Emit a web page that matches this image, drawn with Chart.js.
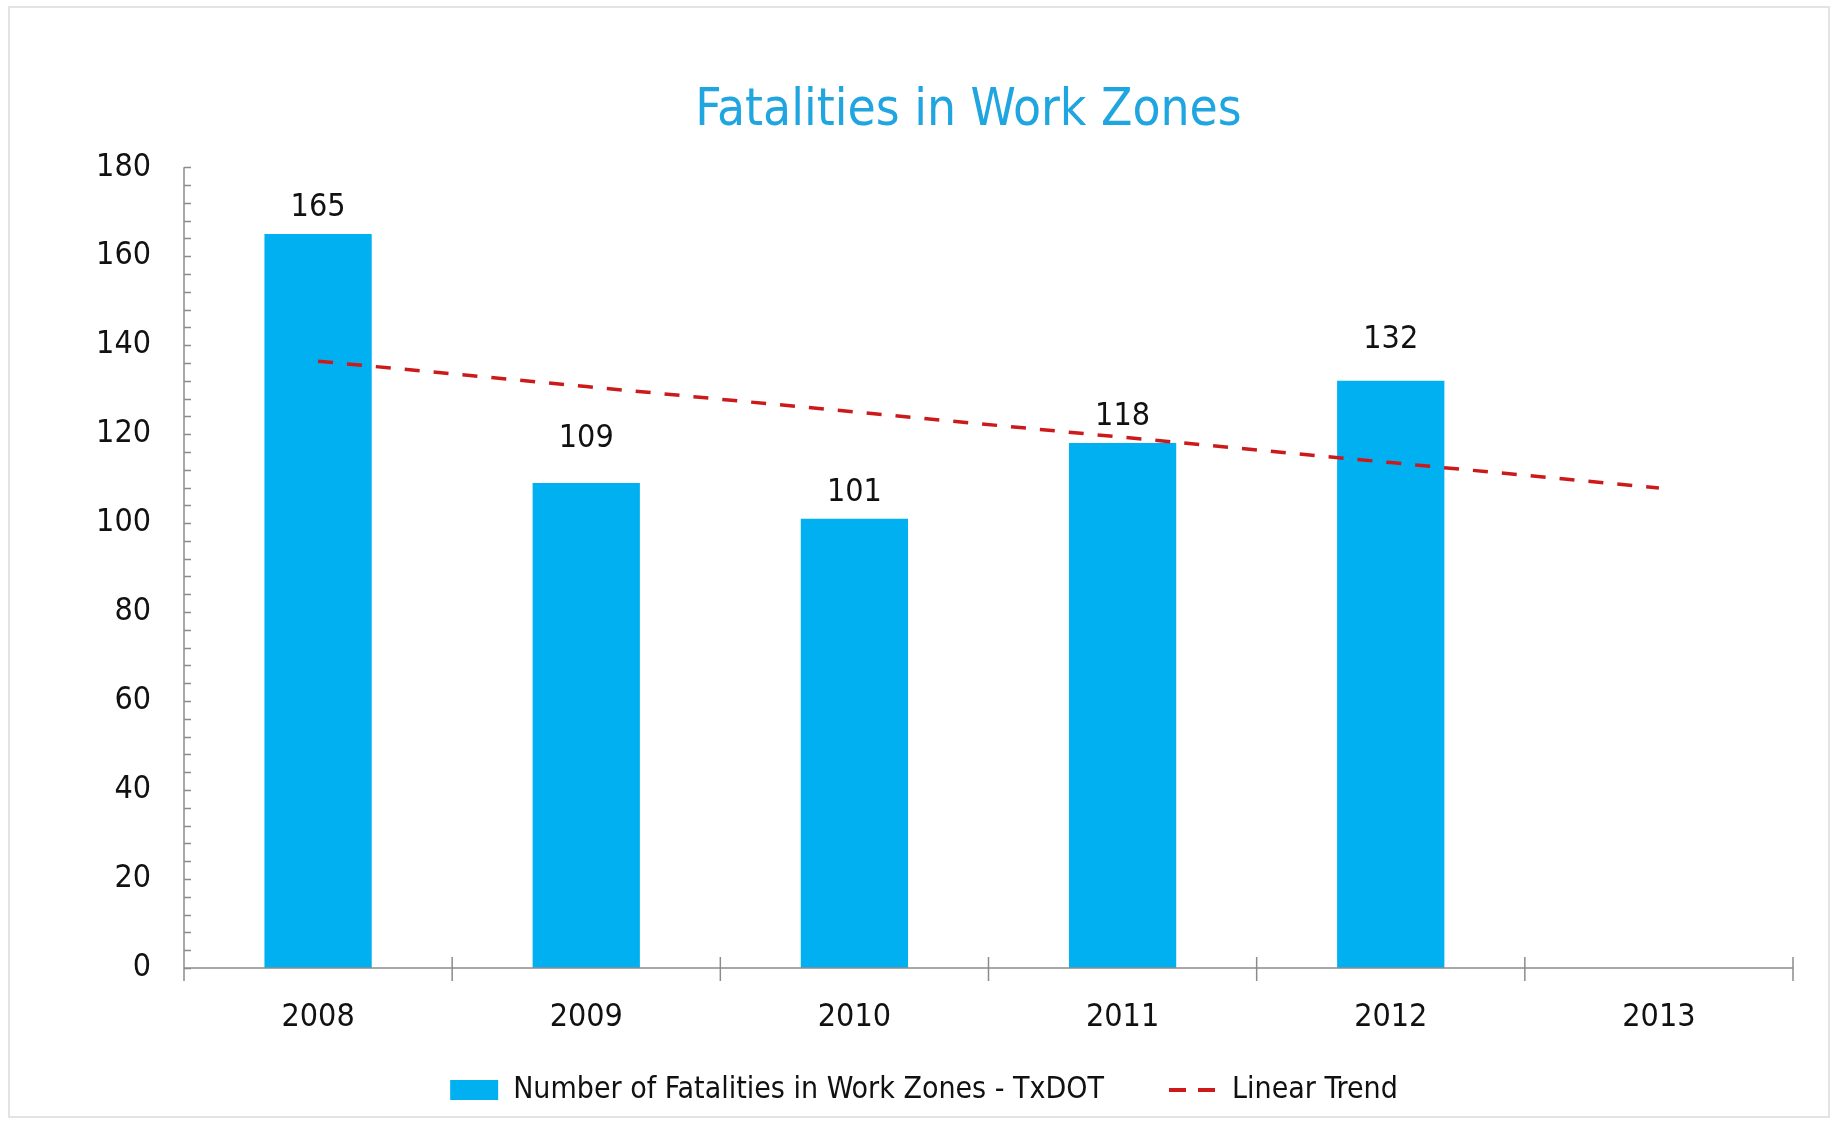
<!DOCTYPE html>
<html>
<head>
<meta charset="utf-8">
<title>Fatalities in Work Zones</title>
<script src="https://cdn.jsdelivr.net/npm/chart.js@4.4.1/dist/chart.umd.min.js"></script>
<style>
  html, body { margin: 0; padding: 0; background: #fff; }
  #frame { position: absolute; left: 8px; top: 6px; width: 1822px; height: 1112px; border: 2px solid #e3e3e3; box-sizing: border-box; }
  #wrap { position: absolute; left: 0; top: 0; width: 1835px; height: 1125px; }
</style>
</head>
<body>
<div id="frame"></div>
<div id="wrap"><canvas id="chart"></canvas></div>
<script>
// values
const years = ['2008', '2009', '2010', '2011', '2012', '2013'];
const fatalities = [165, 109, 101, 118, 132, null];
const linearTrend = [136.4, 130.7, 125.0, 119.3, 113.6, 107.9];
const yMin = 0;
const yMax = 180;
const yStep = 20;
const yMinorStep = 4;

const FONT = "'DejaVu Sans Condensed', 'DejaVu Sans', sans-serif";
const TEXT = '#111111';
const AXIS = '#8c8c8c';
// in the original two of the value labels were dragged a little higher (px)
const labelLift = [0, 18, 0, 0, 15, 0];

// axis lines + inward minor ticks like the excel original
const axisLines = {
  id: 'axisLines',
  afterDatasetsDraw(chart) {
    const { ctx, chartArea: a, scales: { x, y } } = chart;
    ctx.save();
    ctx.strokeStyle = AXIS;
    ctx.lineWidth = 1.5;
    ctx.beginPath();
    ctx.moveTo(a.left, a.top);
    ctx.lineTo(a.left, a.bottom);
    ctx.lineTo(a.right, a.bottom);
    for (let v = yMin; v <= yMax; v += yMinorStep) {
      const py = Math.round(y.getPixelForValue(v)) + 0.5;
      ctx.moveTo(a.left, py);
      ctx.lineTo(a.left + 7, py);
    }
    const half = (x.getPixelForValue(1) - x.getPixelForValue(0)) / 2;
    for (let i = 0; i <= years.length; i++) {
      const px = x.getPixelForValue(i) - half;
      ctx.moveTo(px, a.bottom - 11);
      ctx.lineTo(px, a.bottom + 13);
    }
    ctx.stroke();
    ctx.restore();
  }
};

const valueLabels = {
  id: 'valueLabels',
  afterDatasetsDraw(chart) {
    const ctx = chart.ctx;
    const meta = chart.getDatasetMeta(0);
    ctx.save();
    ctx.font = '32px ' + FONT;
    ctx.fillStyle = TEXT;
    ctx.textAlign = 'center';
    ctx.textBaseline = 'alphabetic';
    meta.data.forEach((bar, i) => {
      const v = fatalities[i];
      if (v == null) return;
      ctx.fillText(String(v), bar.x, bar.y - 18 - labelLift[i]);
    });
    ctx.restore();
  }
};

// small layout tweaks: title a bit left of plot centre (as in the original),
// and let the x labels spill below the (short) x axis box instead of being clipped
const layoutTweaks = {
  id: 'layoutTweaks',
  afterLayout(chart) {
    const t = chart.titleBlock;
    if (t) { t.left -= 20; t.right -= 20; }
    chart.scales.x.bottom = chart.height;
  }
};

new Chart(document.getElementById('chart'), {
  type: 'bar',
  data: {
    labels: years,
    datasets: [
      {
        type: 'bar',
        label: 'Number of Fatalities in Work Zones - TxDOT',
        data: fatalities,
        backgroundColor: '#00b0f0',
        borderWidth: 0,
        barPercentage: 0.4,
        categoryPercentage: 1,
        order: 2
      },
      {
        type: 'line',
        label: 'Linear Trend',
        data: linearTrend,
        borderColor: '#cc1a1a',
        backgroundColor: '#cc1a1a',
        borderWidth: 3.5,
        borderDash: [15, 14],
        pointRadius: 0,
        fill: false,
        tension: 0,
        order: 1
      }
    ]
  },
  options: {
    responsive: true,
    maintainAspectRatio: false,
    animation: false,
    layout: { padding: { top: 0, right: 42, bottom: 10, left: 55 } },
    scales: {
      x: {
        grid: { display: false, drawTicks: false },
        border: { display: false },
        ticks: { color: TEXT, font: { family: FONT, size: 32 }, padding: 30, maxRotation: 0, autoSkip: false },
        afterFit(scale) { scale.height = 42; }
      },
      y: {
        min: yMin,
        max: yMax,
        grid: { display: false, drawTicks: false },
        border: { display: false },
        ticks: { stepSize: yStep, color: TEXT, font: { family: FONT, size: 32 }, padding: 33 },
        afterFit(scale) { scale.width = 129; }
      }
    },
    plugins: {
      tooltip: { enabled: false },
      title: {
        display: true,
        text: 'Fatalities in Work Zones',
        color: '#1fa5df',
        fullSize: false,
        font: { family: FONT, size: 51, weight: 'normal' },
        padding: { top: 81, bottom: 25 }
      },
      legend: {
        position: 'bottom',
        labels: {
          color: TEXT,
          font: { family: FONT, size: 30 },
          usePointStyle: true,
          pointStyleWidth: 48,
          boxHeight: 20,
          padding: 65,
          sort: (a, b) => a.datasetIndex - b.datasetIndex,
          generateLabels(chart) {
            const items = Chart.defaults.plugins.legend.labels.generateLabels(chart);
            items.forEach(it => {
              if (it.datasetIndex === 0) {
                it.pointStyle = 'rect';
              } else {
                it.pointStyle = 'line';
                it.lineDash = [17, 12];
                it.lineWidth = 4;
              }
            });
            return items;
          }
        }
      }
    }
  },
  plugins: [axisLines, valueLabels, layoutTweaks]
});
</script>
</body>
</html>
